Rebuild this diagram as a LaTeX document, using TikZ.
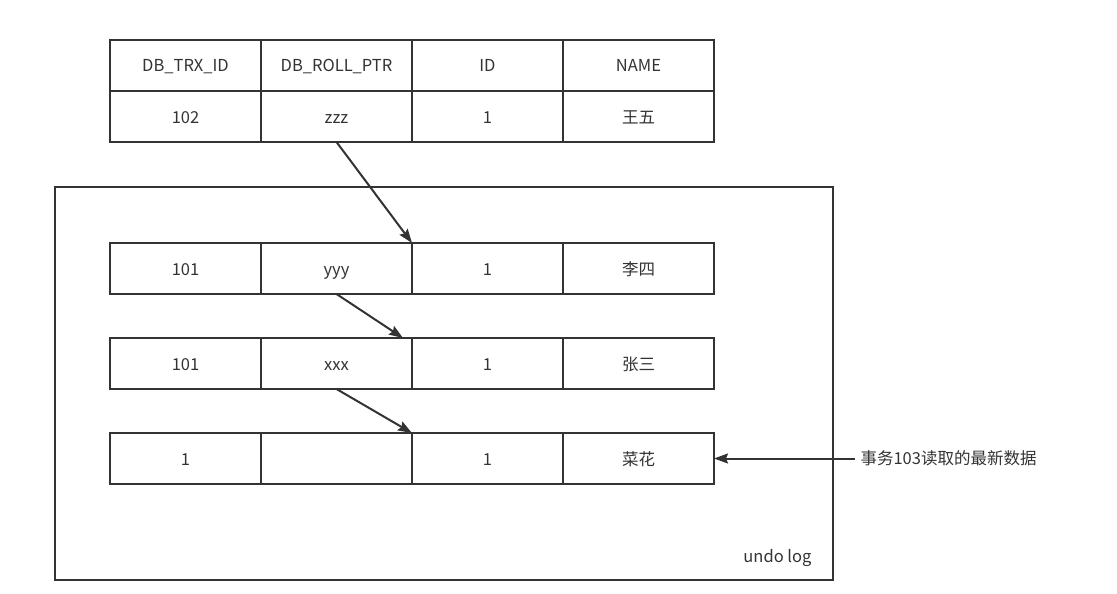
\documentclass[tikz,border=0pt]{standalone}
\usepackage{fontspec}
\setmainfont{Noto Sans CJK SC}
\usetikzlibrary{arrows.meta,positioning}

\begin{document}
\begin{tikzpicture}[
  x=1pt, y=-1pt,
  font=\fontsize{16.5}{19}\selectfont,
  node distance=0pt and 0pt,
  cell/.style={rectangle, draw=black!80, line width=2pt, text=black!80,
               minimum width=151pt, minimum height=51pt,
               text height=15pt, text depth=2pt,
               inner sep=0pt, outer sep=0pt},
  logbox/.style={rectangle, draw=black!80, line width=2pt,
                 minimum width=778pt, minimum height=393pt, inner sep=0pt},
  note/.style={text=black!80},
  arr/.style={-{Stealth[length=14pt,width=10pt,inset=2pt]}, line width=2pt, black!80},
]
\useasboundingbox (0,0) rectangle (1117,594);
% --- UNDO LOG frame ---
\node[logbox] (log) at (444,383.5) {};
\node[note, anchor=east] (loglab) at (815,558) {undo log};
% --- CURRENT ROW (header + data) ---
\node[cell, anchor=north west] (h1) at (110,40) {DB\_TRX\_ID};
\node[cell, right=of h1] (h2) {DB\_ROLL\_PTR};
\node[cell, right=of h2] (h3) {ID};
\node[cell, right=of h3] (h4) {NAME};
\node[cell, below=of h1] (z1) {102};
\node[cell, right=of z1] (z2) {zzz};
\node[cell, right=of z2] (z3) {1};
\node[cell, right=of z3] (z4) {王五};
% --- UNDO LOG versions ---
\node[cell, anchor=north west] (a1) at (110,243) {101};
\node[cell, right=of a1] (a2) {yyy};
\node[cell, right=of a2] (a3) {1};
\node[cell, right=of a3] (a4) {李四};
\node[cell, anchor=north west] (b1) at (110,338) {101};
\node[cell, right=of b1] (b2) {xxx};
\node[cell, right=of b2] (b3) {1};
\node[cell, right=of b3] (b4) {张三};
\node[cell, anchor=north west] (c1) at (110,433) {1};
\node[cell, right=of c1] (c2) {};
\node[cell, right=of c2] (c3) {1};
\node[cell, right=of c3] (c4) {菜花};
% --- read view note ---
\node[note, right=143pt of c4] (readnote) {事务103读取的最新数据};
% --- version chain ---
\draw[arr] (z2.south) -- (a3.north west);
\draw[arr] (a2.south) -- ([xshift=-9pt]b3.north west);
\draw[arr] (b2.south) -- (c3.north west);
\draw[arr, shorten <=2pt] (readnote.west) -- (c4.east);
\end{tikzpicture}
\end{document}
